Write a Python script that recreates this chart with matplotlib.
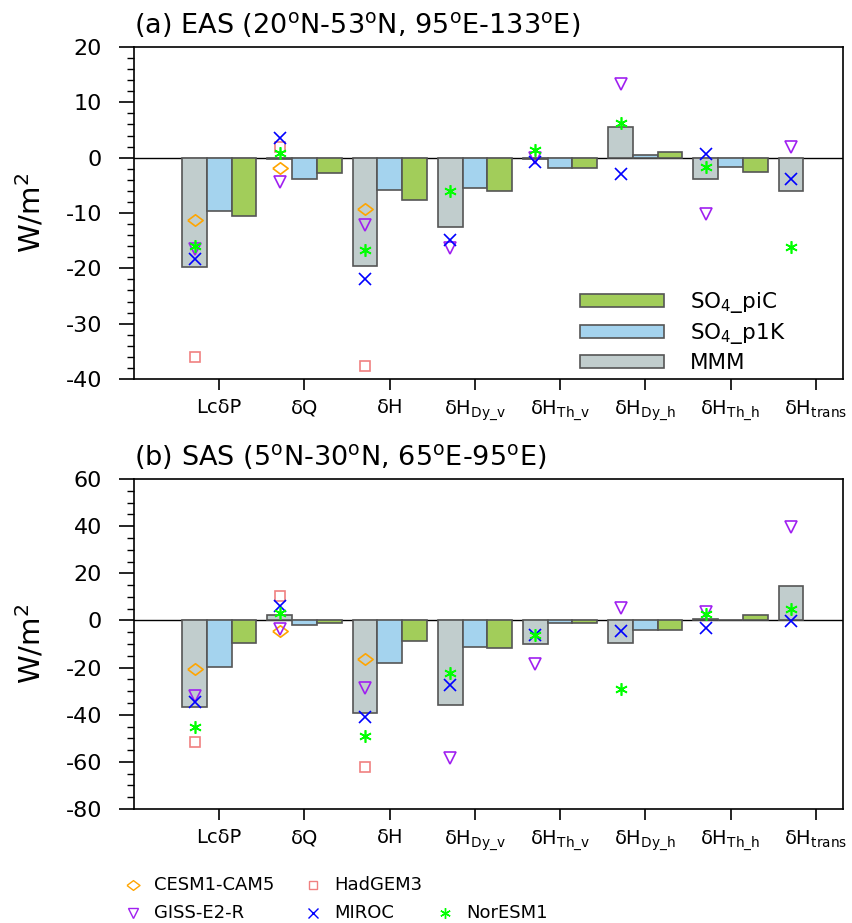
import numpy as np
import matplotlib
matplotlib.use("Agg")
import matplotlib.pyplot as plt
from matplotlib.patches import Patch
from matplotlib.path import Path
from matplotlib.ticker import MultipleLocator

plt.rcParams["font.family"] = ["DejaVu Sans"]
plt.rcParams["mathtext.default"] = "regular"
plt.rcParams["axes.unicode_minus"] = False

# %%
# Data

terms = ["Lc\u03b4P", "\u03b4Q", "\u03b4H",
         "\u03b4H$_{Dy\\_v}$", "\u03b4H$_{Th\\_v}$",
         "\u03b4H$_{Dy\\_h}$", "\u03b4H$_{Th\\_h}$", "\u03b4H$_{trans}$"]
nan = np.nan

# (a) EAS
mmm_a = [-19.7, -0.2, -19.6, -12.5, -0.2, 5.5, -3.9, -6.1]
p1k_a = [-9.7, -3.9, -5.8, -5.4, -1.9, 0.4, -1.7, nan]
pic_a = [-10.5, -2.8, -7.6, -6.0, -1.8, 1.0, -2.6, nan]
cesm_a = [-11.3, -1.9, -9.3, nan, nan, nan, nan, nan]
hadgem_a = [-36.0, 1.9, -37.7, nan, nan, nan, nan, nan]
giss_a = [-16.5, -4.4, -12.2, -16.4, 0.0, 13.3, -10.1, 1.9]
miroc_a = [-18.4, 3.5, -21.9, -14.8, -0.7, -2.9, 0.7, -3.9]
noresm_a = [-16.0, 0.8, -16.7, -6.1, 1.4, 6.2, -1.7, -16.1]

# (b) SAS
mmm_b = [-36.8, 2.2, -39.4, -35.9, -10.1, -9.4, 0.8, 14.8]
p1k_b = [-19.7, -1.9, -17.9, -11.4, -1.2, -4.0, 0.2, nan]
pic_b = [-9.7, -0.9, -8.8, -11.7, -1.0, -4.0, 2.1, nan]
cesm_b = [-20.4, -4.6, -16.2, nan, nan, nan, nan, nan]
hadgem_b = [-51.5, 10.5, -62.2, nan, nan, nan, nan, nan]
giss_b = [-32.0, -3.7, -28.6, -58.2, -18.6, 5.4, 3.7, 39.7]
miroc_b = [-34.4, 6.3, -40.8, -27.2, -6.0, -4.3, -3.3, -0.1]
noresm_b = [-45.3, 3.3, -48.9, -22.1, -6.0, -29.1, 2.6, 4.8]

# %%
# Styles

c_mmm, c_p1k, c_pic = "#C1CDCD", "#A4D3EE", "#A2CD5A"
edge = "#555555"
diamond = Path([(-1, 0), (0, 0.75), (1, 0), (0, -0.75), (-1, 0)])
models = [
    ("CESM1-CAM5", diamond, "#FFA500", 11),
    ("HadGEM3", "s", "#F08080", 7.5),
    ("GISS-E2-R", "v", "#A020F0", 8.5),
    ("MIROC", "x", "#0000FF", 8.5),
    ("NorESM1", (6, 2, 0), "#00FF00", 9),
]

x = np.arange(1, len(terms) + 1)
w = 0.29


def panel(ax, mmm, p1k, pic, model_vals, ylim, major, minor, title):
    ax.axhline(0, color="black", lw=1.0, zorder=1)
    ax.bar(x - w, mmm, w, color=c_mmm, edgecolor=edge, lw=1.2, zorder=2)
    ax.bar(x, p1k, w, color=c_p1k, edgecolor=edge, lw=1.2, zorder=2)
    ax.bar(x + w, pic, w, color=c_pic, edgecolor=edge, lw=1.2, zorder=2)
    for (name, mk, col, ms), vals in zip(models, model_vals):
        ax.plot(x - w, vals, ls="none", marker=mk, ms=ms, mfc="none",
                mec=col, mew=1.2, zorder=3)
    ax.set_xlim(0, 8.32)
    ax.set_ylim(*ylim)
    ax.set_xticks(x)
    ax.set_xticklabels(terms, fontsize=14)
    ax.yaxis.set_major_locator(MultipleLocator(major))
    ax.yaxis.set_minor_locator(MultipleLocator(minor))
    ax.tick_params(axis="y", which="major", direction="out", length=11,
                   width=1.2, labelsize=16, pad=12)
    ax.tick_params(axis="y", which="minor", direction="out", length=5,
                   width=1.0)
    ax.tick_params(axis="x", which="major", direction="out", length=8,
                   width=1.2, pad=6)
    for s in ax.spines.values():
        s.set_linewidth(1.2)
    ax.set_title(title, loc="left", fontsize=19.5, pad=10)


fig = plt.figure(figsize=(8.52, 9.23), dpi=100)
ax_a = fig.add_axes([134 / 852, 1 - 379 / 923, 709 / 852, 332 / 923])
ax_b = fig.add_axes([134 / 852, 1 - 809 / 923, 709 / 852, 330 / 923])

panel(ax_a, mmm_a, p1k_a, pic_a,
      [cesm_a, hadgem_a, giss_a, miroc_a, noresm_a],
      (-40, 20), 10, 2, "(a) EAS (20$^o$N-53$^o$N, 95$^o$E-133$^o$E)")
panel(ax_b, mmm_b, p1k_b, pic_b,
      [cesm_b, hadgem_b, giss_b, miroc_b, noresm_b],
      (-80, 60), 20, 5, "(b) SAS (5$^o$N-30$^o$N, 65$^o$E-95$^o$E)")

for ax in (ax_a, ax_b):
    pos = ax.get_position()
    fig.text(31 / 852, (pos.y0 + pos.y1) / 2, "W/m$^2$", rotation=90,
             ha="center", va="center", fontsize=21)

# bar legend in panel (a)
bar_handles = [
    Patch(facecolor=c_pic, edgecolor=edge, lw=1.2, label="SO$_4$_piC"),
    Patch(facecolor=c_p1k, edgecolor=edge, lw=1.2, label="SO$_4$_p1K"),
    Patch(facecolor=c_mmm, edgecolor=edge, lw=1.2, label="MMM"),
]
ax_a.legend(handles=bar_handles, loc="upper left",
            bbox_to_anchor=((580 - 134) / 709, (379 - 290) / 332),
            frameon=False, fontsize=15.5, handlelength=3.9, handleheight=0.55,
            handletextpad=1.2, labelspacing=0.3, borderpad=0,
            borderaxespad=0)

# model legend at the bottom
leg = fig.add_axes([0, 0, 1, 1])
leg.set_xlim(0, 852)
leg.set_ylim(923, 0)
leg.axis("off")
leg_pos = [(133, 885), (313, 885), (133, 913), (313, 913), (445, 913)]
for (name, mk, col, ms), (lx, ly) in zip(models, leg_pos):
    leg.plot([lx], [ly], ls="none", marker=mk, ms=ms * 0.85, mfc="none",
             mec=col, mew=1.0)
    leg.text(lx + 21, ly, name, fontsize=13, va="center", ha="left")

fig.savefig("out.png", dpi=100)
